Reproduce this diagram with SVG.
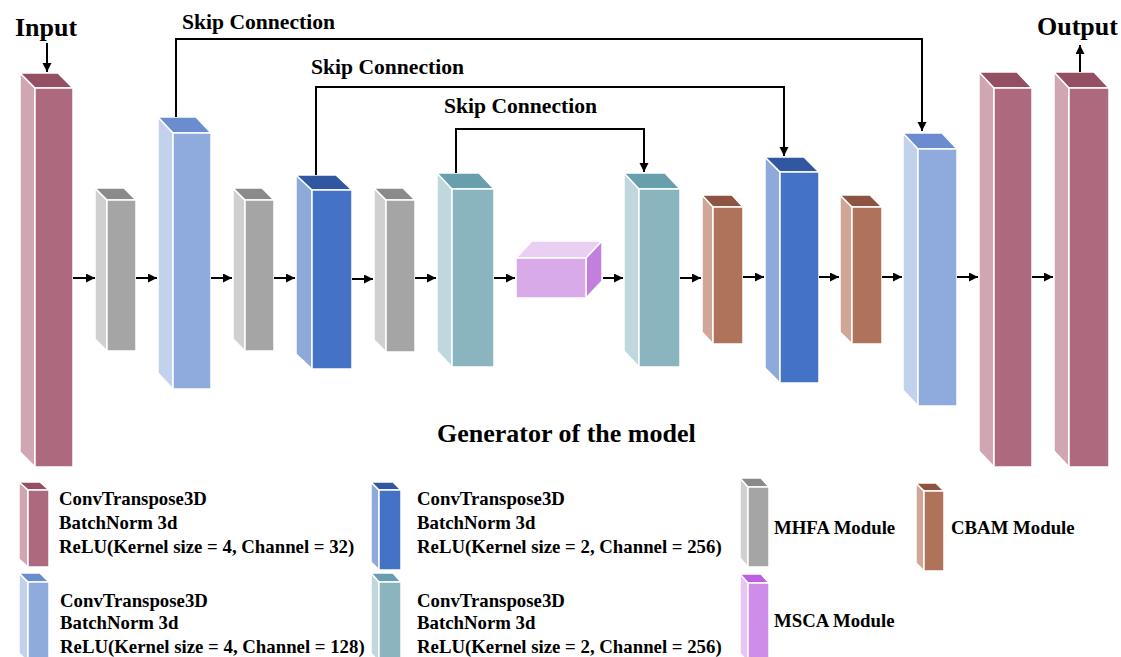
<svg xmlns="http://www.w3.org/2000/svg" width="1121" height="657" viewBox="0 0 1121 657">
<style>
text{font-family:"Liberation Serif","Times New Roman",serif;font-weight:bold;fill:#000}
.t26{font-size:26px}
.skip{font-size:21.6px}
.leg{font-size:18.8px}
polygon,rect{stroke:#fff;stroke-width:1.5;stroke-linejoin:round}
.conn{stroke:#000;stroke-width:2;fill:none}
.mf{fill:#ad6a7e}.ms{fill:#d1a6b3}.mt{fill:#944f63}
.gf{fill:#a5a5a5}.gs{fill:#d0d0d0}.gt{fill:#8a8a8a}
.lf{fill:#8faadc}.ls{fill:#c2d1ec}.lt{fill:#6b8dd0}
.df{fill:#4472c4}.ds{fill:#8eaadb}.dt{fill:#30579f}
.tf{fill:#8ab5bf}.ts{fill:#c0d8dd}.tt{fill:#689fac}
.bf{fill:#ae735a}.bs{fill:#d0a697}.bt{fill:#8c5441}
.pf{fill:#d8abe8}.ps{fill:#c27fdc}.pt{fill:#e9cff2}
.qf{fill:#cd8de8}.qs{fill:#e6c5f3}.qt{fill:#bd5fe4}
</style>
<defs>
<marker id="ah" markerUnits="userSpaceOnUse" markerWidth="10" markerHeight="10" refX="9" refY="4.5" orient="auto">
<path d="M0,0 L9,4.5 L0,9 z" fill="#000"/>
</marker>
</defs>
<rect x="0" y="0" width="1121" height="657" fill="#fff" stroke="none"/>

<g id="input-block">
<polygon class="ms" points="20,73 35,88 35,467 20,452"/>
<polygon class="mt" points="20,73 58,73 73,88 35,88"/>
<rect class="mf" x="35" y="88" width="38" height="379"/>
</g>
<g id="mhfa-1">
<polygon class="gs" points="95,188 107,200 107,351 95,339"/>
<polygon class="gt" points="95,188 124,188 136,200 107,200"/>
<rect class="gf" x="107" y="200" width="29" height="151"/>
</g>
<g id="conv128-1">
<polygon class="ls" points="158,117 173,133 173,389 158,373"/>
<polygon class="lt" points="158,117 196,117 211,133 173,133"/>
<rect class="lf" x="173" y="133" width="38" height="256"/>
</g>
<g id="mhfa-2">
<polygon class="gs" points="233,188 245,200 245,351 233,339"/>
<polygon class="gt" points="233,188 262,188 274,200 245,200"/>
<rect class="gf" x="245" y="200" width="29" height="151"/>
</g>
<g id="conv256-1">
<polygon class="ds" points="296,175 312,190 312,369 296,354"/>
<polygon class="dt" points="296,175 336,175 352,190 312,190"/>
<rect class="df" x="312" y="190" width="40" height="179"/>
</g>
<g id="mhfa-3">
<polygon class="gs" points="374,188 386,200 386,352 374,340"/>
<polygon class="gt" points="374,188 403,188 415,200 386,200"/>
<rect class="gf" x="386" y="200" width="29" height="152"/>
</g>
<g id="conv256b-1">
<polygon class="ts" points="437,173 452,189 452,367 437,351"/>
<polygon class="tt" points="437,173 479,173 494,189 452,189"/>
<rect class="tf" x="452" y="189" width="42" height="178"/>
</g>
<g id="msca">
<polygon class="pt" points="516,258 532,241 602,241 586,258"/>
<polygon class="ps" points="586,258 602,241 602,281 586,298"/>
<rect class="pf" x="516" y="258" width="70" height="40"/>
</g>
<g id="conv256b-2">
<polygon class="ts" points="624,173 639,189 639,367 624,351"/>
<polygon class="tt" points="624,173 665,173 680,189 639,189"/>
<rect class="tf" x="639" y="189" width="41" height="178"/>
</g>
<g id="cbam-1">
<polygon class="bs" points="702,195 713,207 713,344 702,332"/>
<polygon class="bt" points="702,195 732,195 743,207 713,207"/>
<rect class="bf" x="713" y="207" width="30" height="137"/>
</g>
<g id="conv256-2">
<polygon class="ds" points="765,157 780,172 780,383 765,368"/>
<polygon class="dt" points="765,157 804,157 819,172 780,172"/>
<rect class="df" x="780" y="172" width="39" height="211"/>
</g>
<g id="cbam-2">
<polygon class="bs" points="840,195 852,207 852,344 840,332"/>
<polygon class="bt" points="840,195 870,195 882,207 852,207"/>
<rect class="bf" x="852" y="207" width="30" height="137"/>
</g>
<g id="conv128-2">
<polygon class="ls" points="903,133 918,149 918,406 903,390"/>
<polygon class="lt" points="903,133 942,133 957,149 918,149"/>
<rect class="lf" x="918" y="149" width="39" height="257"/>
</g>
<g id="conv32-2">
<polygon class="ms" points="979,72 994,88 994,467 979,451"/>
<polygon class="mt" points="979,72 1017,72 1032,88 994,88"/>
<rect class="mf" x="994" y="88" width="38" height="379"/>
</g>
<g id="output-block">
<polygon class="ms" points="1054,72 1069,88 1069,467 1054,451"/>
<polygon class="mt" points="1054,72 1094,72 1109,88 1069,88"/>
<rect class="mf" x="1069" y="88" width="40" height="379"/>
</g>

<g id="connectors">
<line class="conn" x1="47" y1="43" x2="47" y2="72" marker-end="url(#ah)"/>
<line class="conn" x1="1080" y1="72" x2="1080" y2="45" marker-end="url(#ah)"/>
<line class="conn" x1="73" y1="278" x2="95" y2="278" marker-end="url(#ah)"/>
<line class="conn" x1="136" y1="278" x2="157" y2="278" marker-end="url(#ah)"/>
<line class="conn" x1="211" y1="278" x2="232" y2="278" marker-end="url(#ah)"/>
<line class="conn" x1="274" y1="278" x2="295" y2="278" marker-end="url(#ah)"/>
<line class="conn" x1="352" y1="279" x2="373" y2="279" marker-end="url(#ah)"/>
<line class="conn" x1="415" y1="278" x2="436" y2="278" marker-end="url(#ah)"/>
<line class="conn" x1="494" y1="278" x2="515" y2="278" marker-end="url(#ah)"/>
<line class="conn" x1="603" y1="278" x2="623" y2="278" marker-end="url(#ah)"/>
<line class="conn" x1="680" y1="278" x2="701" y2="278" marker-end="url(#ah)"/>
<line class="conn" x1="743" y1="277" x2="764" y2="277" marker-end="url(#ah)"/>
<line class="conn" x1="819" y1="277" x2="839" y2="277" marker-end="url(#ah)"/>
<line class="conn" x1="882" y1="277" x2="902" y2="277" marker-end="url(#ah)"/>
<line class="conn" x1="957" y1="277" x2="978" y2="277" marker-end="url(#ah)"/>
<line class="conn" x1="1032" y1="277" x2="1053" y2="277" marker-end="url(#ah)"/>
<path class="conn" d="M176,117 V39 H922 V131" marker-end="url(#ah)"/>
<path class="conn" d="M316,175 V87 H784 V156" marker-end="url(#ah)"/>
<path class="conn" d="M456,173 V129 H644 V172" marker-end="url(#ah)"/>
</g>

<g id="labels">
<text class="t26" x="15" y="36">Input</text>
<text class="t26" x="1037" y="35">Output</text>
<text class="skip" x="182" y="29">Skip Connection</text>
<text class="skip" x="311" y="74">Skip Connection</text>
<text class="skip" x="444" y="113">Skip Connection</text>
<text class="t26" x="437" y="442">Generator of the model</text>
</g>

<g id="legend">
<g id="legend-conv32">
<polygon class="ms" points="19,482 28,490 28,567 19,559"/>
<polygon class="mt" points="19,482 40,482 49,490 28,490"/>
<rect class="mf" x="28" y="490" width="21" height="77"/>
<text class="leg" x="59" y="505">ConvTranspose3D</text>
<text class="leg" x="59" y="529">BatchNorm 3d</text>
<text class="leg" x="59" y="553">ReLU(Kernel size = 4, Channel = 32)</text>
</g>
<g id="legend-conv128">
<polygon class="ls" points="19,573 28,582 28,662 19,653"/>
<polygon class="lt" points="19,573 40,573 49,582 28,582"/>
<rect class="lf" x="28" y="582" width="21" height="80"/>
<text class="leg" x="60" y="607">ConvTranspose3D</text>
<text class="leg" x="60" y="629">BatchNorm 3d</text>
<text class="leg" x="60" y="653">ReLU(Kernel size = 4, Channel = 128)</text>
</g>
<g id="legend-conv256">
<polygon class="ds" points="371,482 379,490 379,570 371,562"/>
<polygon class="dt" points="371,482 393,482 401,490 379,490"/>
<rect class="df" x="379" y="490" width="22" height="80"/>
<text class="leg" x="417" y="505">ConvTranspose3D</text>
<text class="leg" x="417" y="529">BatchNorm 3d</text>
<text class="leg" x="417" y="553">ReLU(Kernel size = 2, Channel = 256)</text>
</g>
<g id="legend-conv256b">
<polygon class="ts" points="371,573 379,582 379,662 371,653"/>
<polygon class="tt" points="371,573 393,573 401,582 379,582"/>
<rect class="tf" x="379" y="582" width="22" height="80"/>
<text class="leg" x="417" y="607">ConvTranspose3D</text>
<text class="leg" x="417" y="629">BatchNorm 3d</text>
<text class="leg" x="417" y="653">ReLU(Kernel size = 2, Channel = 256)</text>
</g>
<g id="legend-mhfa">
<polygon class="gs" points="740,478 748,487 748,567 740,558"/>
<polygon class="gt" points="740,478 761,478 769,487 748,487"/>
<rect class="gf" x="748" y="487" width="21" height="80"/>
<text class="leg" x="774" y="534">MHFA Module</text>
</g>
<g id="legend-msca">
<polygon class="qs" points="740,574 748,583 748,662 740,653"/>
<polygon class="qt" points="740,574 761,574 769,583 748,583"/>
<rect class="qf" x="748" y="583" width="21" height="79"/>
<text class="leg" x="774" y="627">MSCA Module</text>
</g>
<g id="legend-cbam">
<polygon class="bs" points="916,483 924,491 924,571 916,563"/>
<polygon class="bt" points="916,483 936,483 944,491 924,491"/>
<rect class="bf" x="924" y="491" width="20" height="80"/>
<text class="leg" x="951" y="534">CBAM Module</text>
</g>
</g>
</svg>
